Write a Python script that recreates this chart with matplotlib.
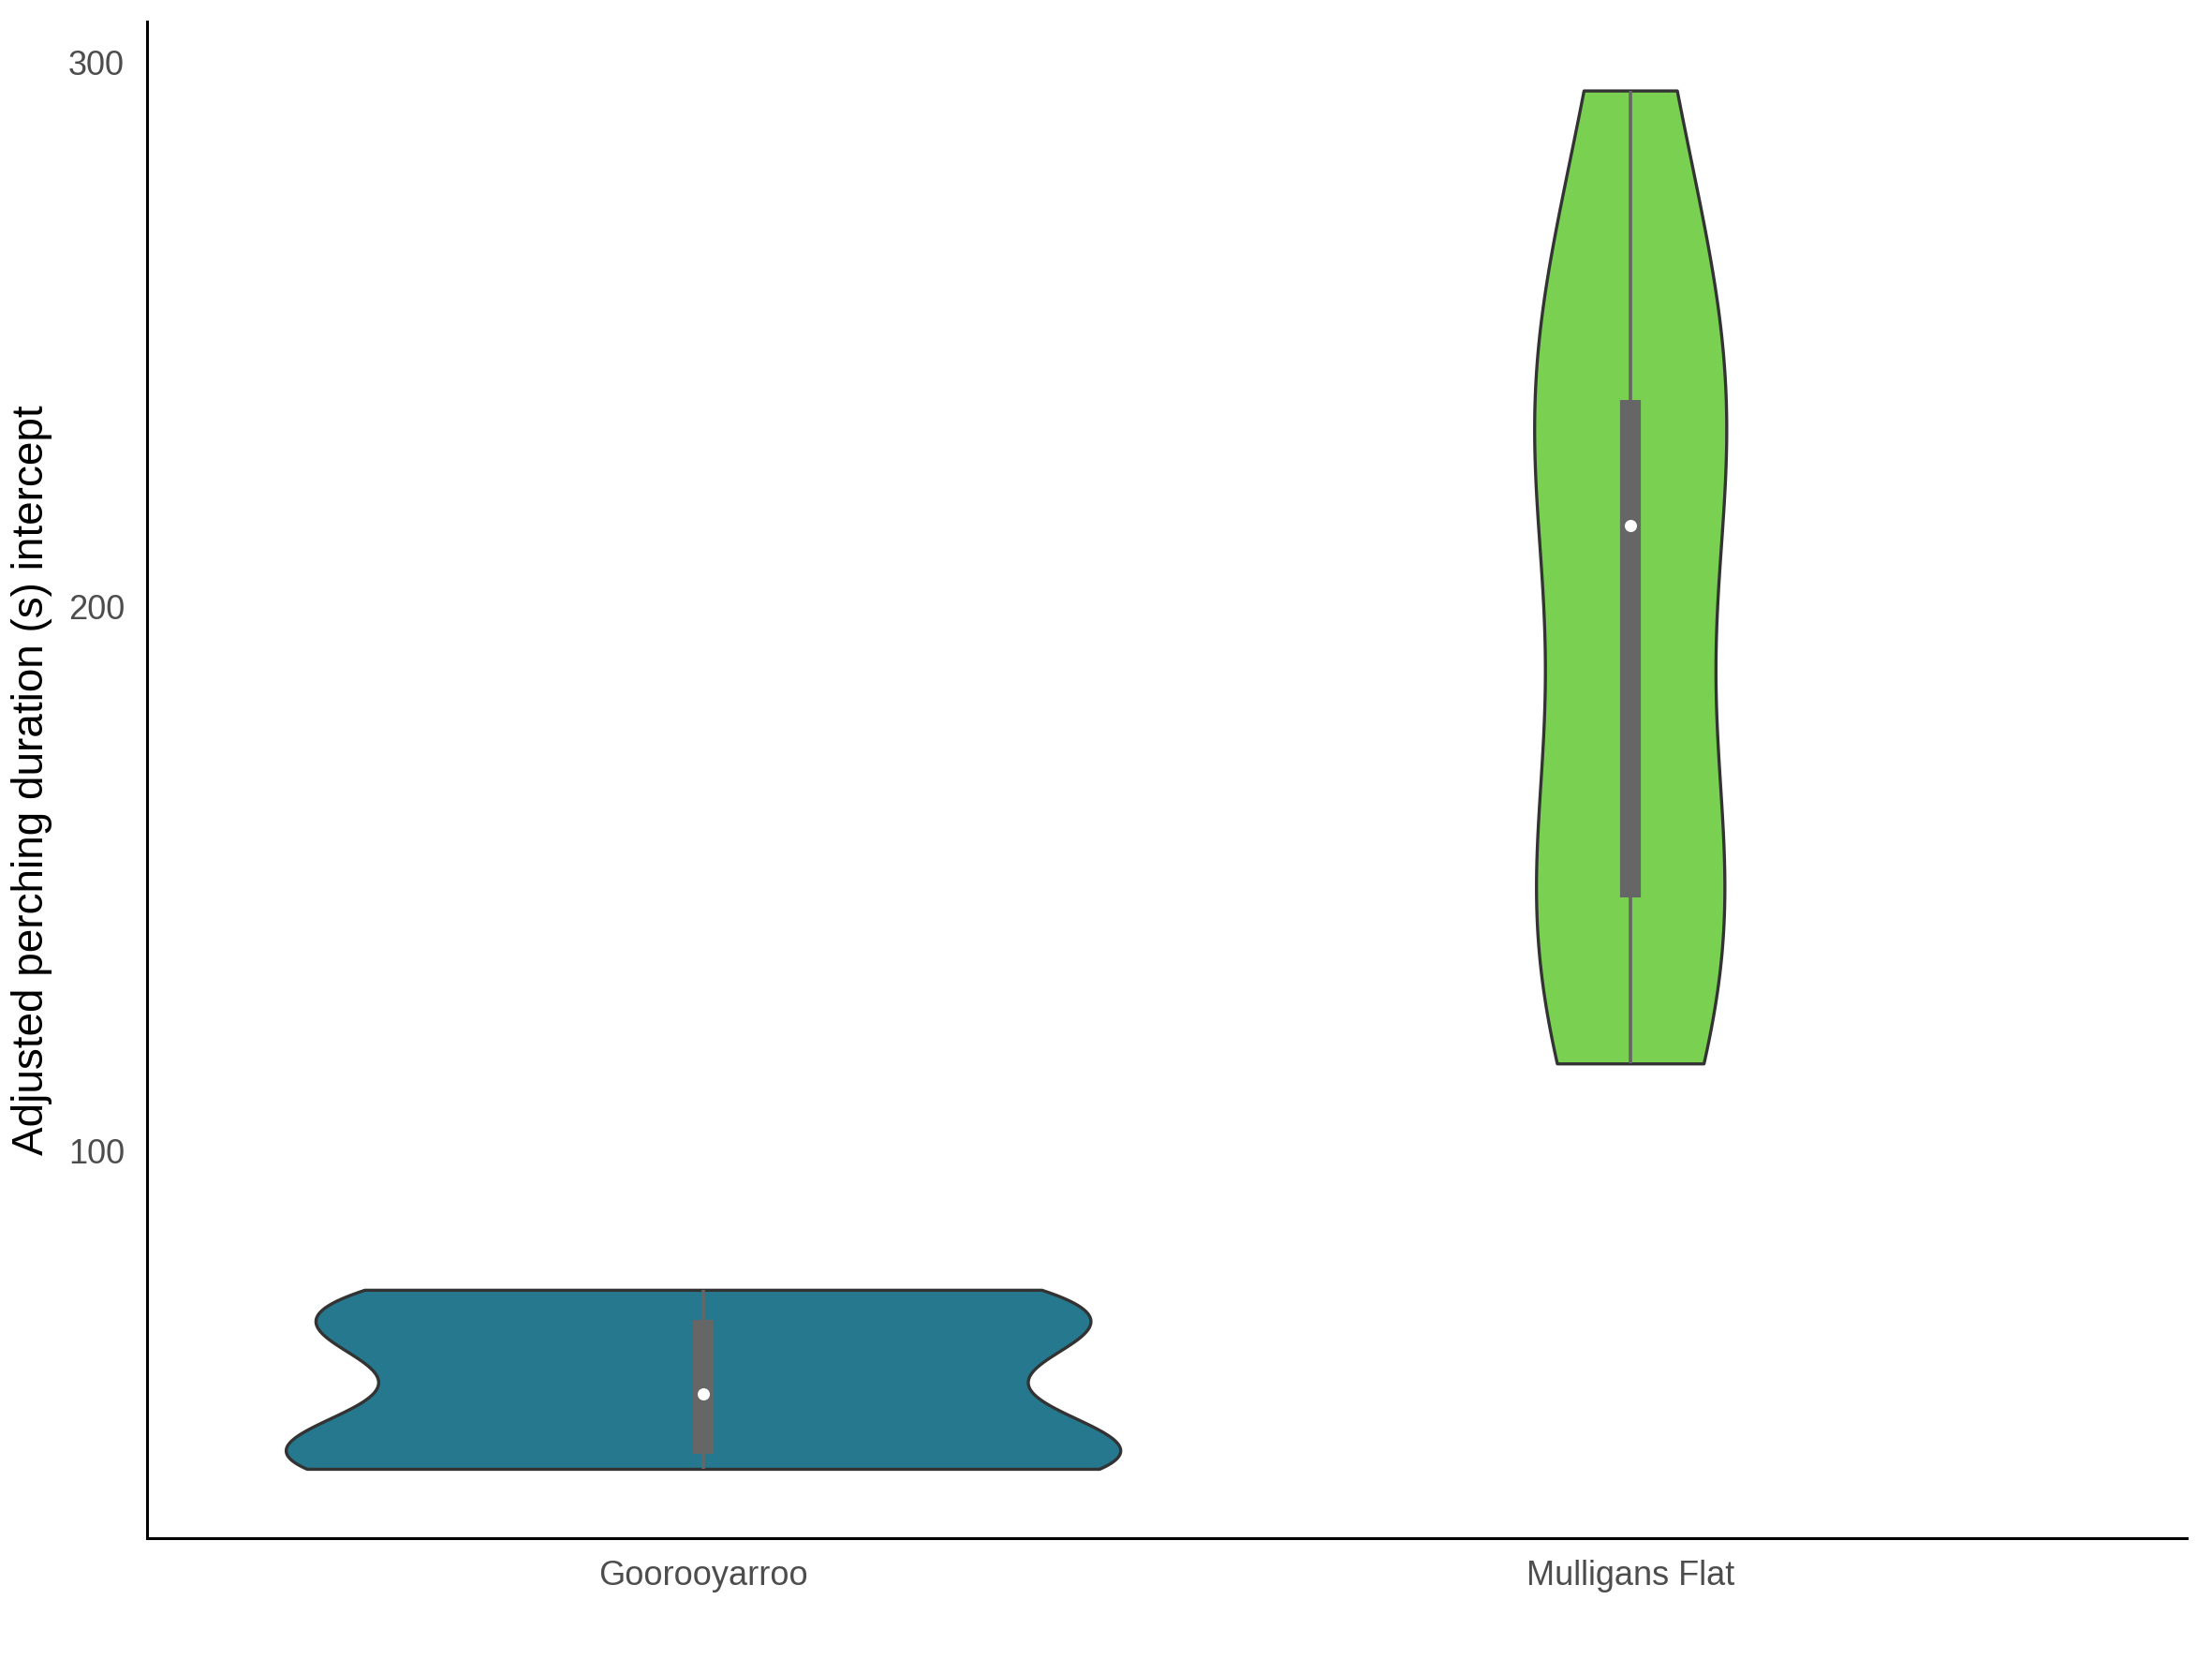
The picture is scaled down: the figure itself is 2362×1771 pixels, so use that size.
import matplotlib
matplotlib.use("Agg")
import matplotlib.pyplot as plt
import numpy as np

plt.rcParams["font.family"] = ["Liberation Sans", "DejaVu Sans"]

sites = ["Gooroo yarroo".replace(" ", ""), "Mulligans Flat"]
colors = ["#25788d", "#7ad151"]

# estimated per-site intercept values (s)
gooroo = [41.5, 43.5, 44.5, 46.0, 64.4, 68.0, 71.5, 74.4]
mulligans = [116.0, 136.0, 143.0, 150.0, 154.0, 214.8,
             226.0, 232.0, 244.0, 258.0, 294.8]
groups = [gooroo, mulligans]

BW_ADJUST = 1.0
WIDTH = 0.9


def kde(vals, grid, adjust=BW_ADJUST):
    v = np.asarray(vals, dtype=float)
    bw = v.std(ddof=1) * len(v) ** (-1 / 5) * adjust
    z = (grid[:, None] - v[None, :]) / bw
    return np.exp(-0.5 * z ** 2).sum(axis=1) / (len(v) * bw * np.sqrt(2 * np.pi))


fig, ax = plt.subplots(figsize=(11.81, 8.855), dpi=200)
fig.subplots_adjust(left=0.0663, right=0.9885, bottom=0.0731, top=0.987)

curves = []
for vals in groups:
    grid = np.linspace(min(vals), max(vals), 300)
    curves.append((grid, kde(vals, grid)))
peak = max(d.max() for _, d in curves)

for i, (vals, (grid, dens), col) in enumerate(zip(groups, curves, colors)):
    half = dens / peak * WIDTH / 2
    ax.fill_betweenx(grid, i - half, i + half, facecolor=col,
                     edgecolor="#333333", linewidth=1.2, zorder=2)
    q1, med, q3 = np.percentile(vals, [25, 50, 75])
    iqr = q3 - q1
    v = np.asarray(vals)
    lo = v[v >= q1 - 1.5 * iqr].min()
    hi = v[v <= q3 + 1.5 * iqr].max()
    ax.plot([i, i], [lo, hi], color="#666666", lw=1.3, zorder=3,
            solid_capstyle="butt")
    ax.plot([i, i], [q1, q3], color="#666666", lw=8, zorder=3,
            solid_capstyle="butt")
    ax.scatter([i], [med], s=22, color="white", zorder=4, linewidths=0)

ax.set_xlim(-0.6, 1.6)
ax.set_xticks([0, 1])
ax.set_xticklabels(sites)
ax.set_yticks([100, 200, 300])
ax.tick_params(length=0, labelsize=13, colors="#4d4d4d", pad=8.5)
ax.set_ylabel("Adjusted perching duration (s) intercept", fontsize=16.5,
              color="black", labelpad=6)
for s in ["top", "right"]:
    ax.spines[s].set_visible(False)
for s in ["left", "bottom"]:
    ax.spines[s].set_linewidth(1.1)

fig.savefig("out.png", dpi=200)
